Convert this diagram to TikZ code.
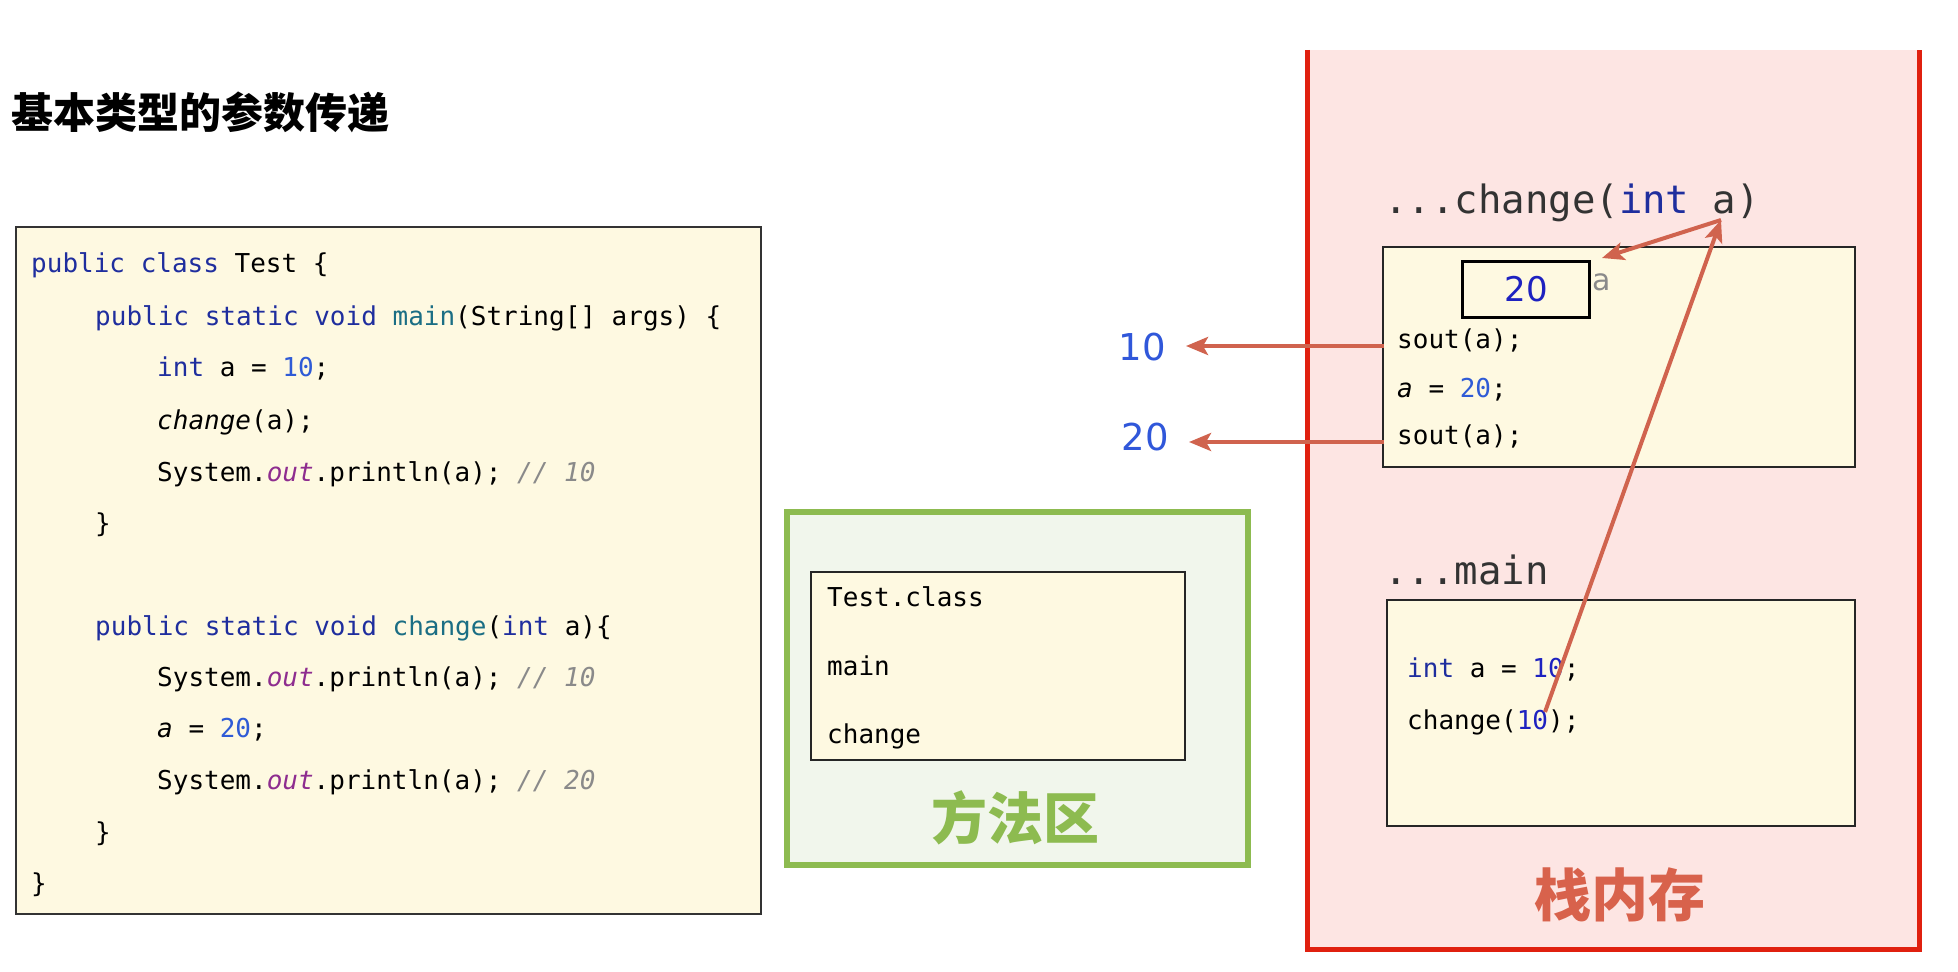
\documentclass[tikz,border=0pt]{standalone}
\usepackage{fontspec}
\usetikzlibrary{arrows.meta}
\setmonofont{DejaVu Sans Mono}
\newfontfamily\cjk{Noto Sans CJK SC}
\newfontfamily\dvs{DejaVu Sans}
\definecolor{kw}{HTML}{1F2E9E}
\definecolor{fn}{HTML}{1B6E84}
\definecolor{num}{HTML}{2F5BD6}
\definecolor{pu}{HTML}{8E2D8F}
\definecolor{cm}{HTML}{8A8A8A}
\definecolor{cream}{HTML}{FEF9E1}
\definecolor{grn}{HTML}{8DBB50}
\definecolor{grnfill}{HTML}{F1F6EC}
\definecolor{redline}{HTML}{E0200F}
\definecolor{pink}{HTML}{FDE5E3}
\definecolor{salmon}{HTML}{D8624C}
\definecolor{arrowc}{HTML}{D0634E}
\definecolor{hdr}{HTML}{333333}
\definecolor{boxblue}{HTML}{1E22C0}
\definecolor{lblue}{HTML}{3057DA}
\newcommand{\K}[1]{\textcolor{kw}{#1}}
\newcommand{\F}[1]{\textcolor{fn}{#1}}
\newcommand{\N}[1]{\textcolor{num}{#1}}
\newcommand{\PU}[1]{\textcolor{pu}{\itshape #1}}
\newcommand{\CM}[1]{\textcolor{cm}{\itshape #1}}
\tikzset{
  code/.style={anchor=west, inner sep=0pt, font=\ttfamily\fontsize{26}{30}\selectfont, text height=0.75em, text depth=0.2em},
  frame/.style={draw=black!85, line width=2pt, fill=cream, anchor=north west, inner sep=0pt},
  hdrtxt/.style={anchor=west, inner sep=0pt, text=hdr, font=\ttfamily\fontsize{39}{44}\selectfont, text height=0.75em, text depth=0.2em},
  arr/.style={draw=arrowc, line width=4pt, -{Stealth[length=22,width=18,inset=5]}},
  outnum/.style={text=lblue, font=\dvs\fontsize{37}{42}\selectfont, inner sep=0pt}
}
\begin{document}
\begin{tikzpicture}[x=1pt,y=-1pt]
\useasboundingbox (0,0) rectangle (1958,971);
\fill[white] (0,0) rectangle (1958,971);

% title
\node[anchor=west, inner sep=0pt, font=\cjk\bfseries\fontsize{42}{48}\selectfont] (title) at (11,112) {基本类型的参数传递};

% code box
\node[draw=black!80, line width=1.5pt, fill=cream, anchor=north west, minimum width=745, minimum height=687, inner sep=0pt] (codebox) at (15,226) {};
\node[code] (l1) at (31,270) {\K{public class} Test \{};
\node[code] (l2) at (95,323) {\K{public static void} \F{main}(String[] args) \{};
\node[code] (l3) at (157,374) {\K{int} a = \N{10};};
\node[code] (l4) at (157,427) {\textit{change}(a);};
\node[code] (l5) at (157,479) {System.\PU{out}.println(a); \CM{// 10}};
\node[code] (l6) at (95,530) {\}};
\node[code] (l7) at (95,633) {\K{public static void} \F{change}(\K{int} a)\{};
\node[code] (l8) at (157,684) {System.\PU{out}.println(a); \CM{// 10}};
\node[code] (l9) at (157,735) {\textit{a} = \N{20};};
\node[code] (l10) at (157,787) {System.\PU{out}.println(a); \CM{// 20}};
\node[code] (l11) at (95,839) {\}};
\node[code] (l12) at (31,890) {\}};

% method area
\node[draw=grn, line width=6pt, fill=grnfill, anchor=north west, minimum width=461, minimum height=353, inner sep=0pt] (marea) at (784,509) {};
\node[frame, minimum width=374, minimum height=188] (cls) at (810,571) {};
\node[code] (tc) at (827,604) {Test.class};
\node[code] (mm) at (827,673) {main};
\node[code] (mc) at (827,741) {change};
\node[text=grn, font=\cjk\bfseries\fontsize{56}{60}\selectfont, inner sep=0pt] (mlabel) at (1015,818) {方法区};

% stack
\fill[pink] (1307,50) rectangle (1919,949);
\draw[redline, line width=5pt] (1307,50) -- (1307,949) -- (1919,949) -- (1919,50);
\node[text=salmon, font=\cjk\bfseries\fontsize{57}{60}\selectfont, inner sep=0pt] (slabel) at (1620,895) {栈内存};

% change frame
\node[hdrtxt] (chh) at (1384,211) {...change(\textcolor{kw}{int} a)};
\node[frame, minimum width=472, minimum height=220] (chf) at (1382,246) {};
\node[draw=black, line width=3pt, fill=cream, anchor=north west, minimum width=127, minimum height=56, inner sep=0pt, text=boxblue, font=\dvs\fontsize{34}{38}\selectfont] (box20) at (1461,260) {20};
\node[anchor=west, inner sep=0pt, text=cm, font=\dvs\fontsize{30}{34}\selectfont] (alab) at (1592,282) {a};
\node[code, inner xsep=13pt] (s1) at (1384,346) {sout(a);};
\node[code] (s2) at (1397,395) {\textit{a} = \N{20};};
\node[code, inner xsep=13pt] (s3) at (1384,442) {sout(a);};

% main frame
\node[hdrtxt] (mh) at (1384,582) {...main};
\node[frame, minimum width=468, minimum height=226] (mf) at (1386,599) {};
\node[code] (m1) at (1407,675) {\textcolor{kw}{int} a = \textcolor{boxblue}{10};};
\node[code] (m2) at (1407,727) {change(\textcolor{boxblue}{10});};

% outputs
\node[outnum, anchor=east, inner xsep=20pt] (o10) at (1186,347) {10};
\node[outnum, anchor=east, inner xsep=20pt] (o20) at (1189,437) {20};

% connectors
\coordinate (c10) at (1545,712);
\coordinate (pa) at (1721,220);
\coordinate (tip20) at (1602,258);
\draw[arr] (s1.west) -- (s1.west -| o10.east);
\draw[arr] (s3.west) -- (s3.west -| o20.east);
\draw[arr] (c10) -- (pa);
\draw[arr] (pa) -- (tip20);
\end{tikzpicture}
\end{document}
